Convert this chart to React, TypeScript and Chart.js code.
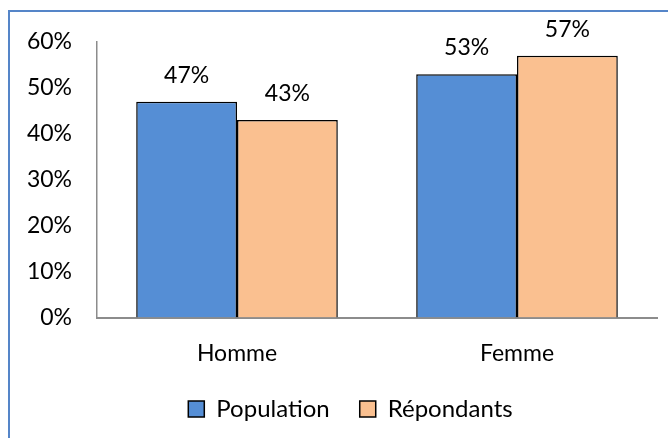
import React, { useEffect, useRef } from "react";
import { Chart, registerables } from "chart.js";

Chart.register(...registerables);

const categories = ["Homme", "Femme"];
const populationValues = [0.47, 0.53];
const repondantsValues = [0.43, 0.57];
const seriesNames = ["Population", "Répondants"];
const yTicks = [0, 0.1, 0.2, 0.3, 0.4, 0.5, 0.6];

const FONT = "Lato";

const dataLabelPlugin = {
  id: "dataLabels",
  afterDatasetsDraw(chart: any) {
    const ctx = chart.ctx;
    ctx.save();
    ctx.font = `23px ${FONT}`;
    ctx.fillStyle = "#000";
    ctx.textAlign = "center";
    ctx.textBaseline = "alphabetic";
    chart.data.datasets.forEach((ds: any, i: number) => {
      const meta = chart.getDatasetMeta(i);
      meta.data.forEach((bar: any, j: number) => {
        const v = ds.data[j];
        ctx.fillText(Math.round(v * 100) + "%", bar.x, bar.y - 19);
      });
    });
    ctx.restore();
  },
};

const legendShiftPlugin = {
  id: "legendShift",
  afterLayout(chart: any) {
    if (chart.legend) {
      chart.legend.left += 22;
      chart.legend.right += 22;
    }
  },
};

export default function App() {
  const ref = useRef<HTMLCanvasElement>(null);
  useEffect(() => {
    const chart = new Chart(ref.current!, {
      type: "bar",
      data: {
        labels: categories,
        datasets: [
          {
            label: seriesNames[0],
            data: populationValues,
            backgroundColor: "#558ED5",
            borderColor: "#000",
            borderWidth: 1.5,
          },
          {
            label: seriesNames[1],
            data: repondantsValues,
            backgroundColor: "#FAC090",
            borderColor: "#000",
            borderWidth: 1.5,
          },
        ],
      },
      options: {
        animation: false,
        responsive: false,
        devicePixelRatio: 1,
        layout: { padding: { top: 42, right: 11, bottom: 29, left: 0 } },
        datasets: {
          bar: { barPercentage: 1, categoryPercentage: 0.72 },
        },
        plugins: {
          legend: {
            position: "bottom",
            labels: {
              font: { family: FONT, size: 24 },
              color: "#000",
              boxWidth: 16,
              boxHeight: 16,
              padding: 30,
            },
          },
          tooltip: { enabled: false },
        },
        scales: {
          x: {
            grid: { display: false, drawTicks: false },
            border: { display: true, color: "#8c8c8c", width: 2 },
            ticks: {
              font: { family: FONT, size: 23 },
              color: "#000",
              padding: 22,
            },
            afterFit: (s: any) => {
              s.height = 49.5;
            },
          },
          y: {
            min: 0,
            max: 0.6,
            afterBuildTicks: (s: any) => {
              s.ticks = yTicks.map((v) => ({ value: v }));
            },
            grid: { display: false, drawTicks: false },
            border: { display: true, color: "#8c8c8c", width: 1.5 },
            ticks: {
              font: { family: FONT, size: 23 },
              color: "#000",
              padding: 25,
              callback: (v: any) => Math.round(Number(v) * 100) + "%",
            },
            afterFit: (s: any) => {
              s.width = 97;
            },
          },
        },
      },
      plugins: [dataLabelPlugin, legendShiftPlugin],
    });
    return () => chart.destroy();
  }, []);

  return (
    <div
      style={{
        position: "fixed",
        left: 0,
        top: 0,
        width: 668,
        height: 438,
        overflow: "hidden",
        background: "#fff",
      }}
    >
      <div
        style={{
          position: "absolute",
          left: 8,
          top: 10,
          width: 700,
          height: 500,
          border: "2px solid #5585C8",
          boxSizing: "border-box",
        }}
      />
      <canvas
        ref={ref}
        width={668}
        height={460}
        style={{ position: "absolute", left: 0, top: 0, width: 668, height: 460 }}
      />
    </div>
  );
}
